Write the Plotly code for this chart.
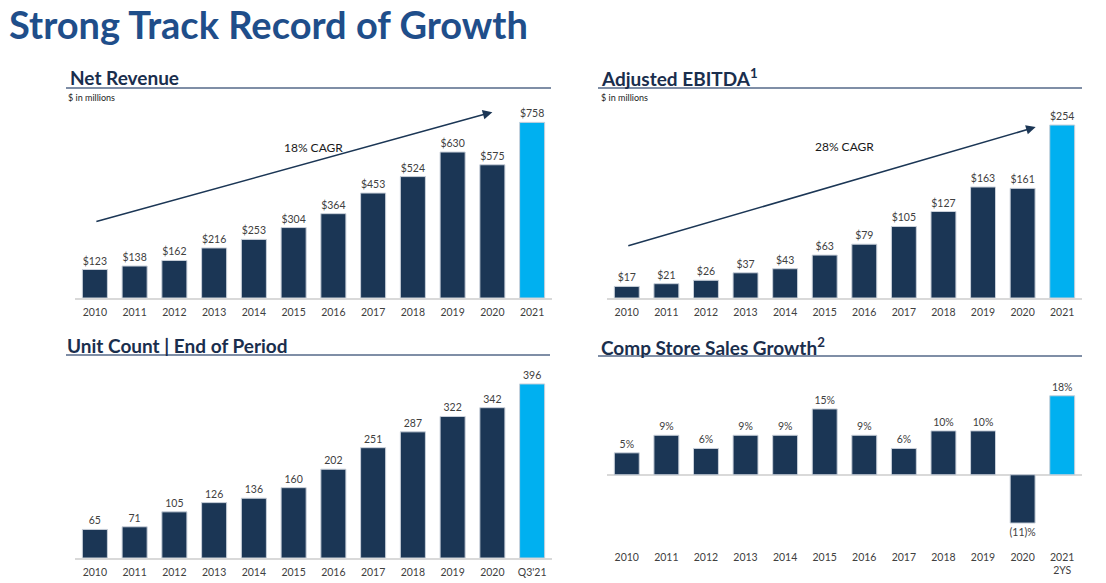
import plotly.graph_objects as go

# ---------------- data ----------------
years = ["2010", "2011", "2012", "2013", "2014", "2015", "2016", "2017", "2018", "2019", "2020", "2021"]
unit_labels = ["2010", "2011", "2012", "2013", "2014", "2015", "2016", "2017", "2018", "2019", "2020", "Q3'21"]
comp_labels = ["2010", "2011", "2012", "2013", "2014", "2015", "2016", "2017", "2018", "2019", "2020", "2021<br>2YS"]

net_revenue = [123, 138, 162, 216, 253, 304, 364, 453, 524, 630, 575, 758]
adj_ebitda = [17, 21, 26, 37, 43, 63, 79, 105, 127, 163, 161, 254]
unit_count = [65, 71, 105, 126, 136, 160, 202, 251, 287, 322, 342, 396]
comp_growth = [5, 9, 6, 9, 9, 15, 9, 6, 10, 10, -11, 18]

# CAGR arrows (start/end in data coordinates: category index, value)
rev_arrow = dict(x0=0.0, y0=328, x1=10.0, y1=802, label="18% CAGR", lx=5.5, ly=651)
ebitda_arrow = dict(x0=0.0, y0=76, x1=10.33, y1=251, label="28% CAGR", lx=5.5, ly=222)

# ---------------- style ----------------
FONT = "Lato"
NAVY = "#1b3655"
HILITE = "#00b0f0"
TITLE_C = "#1f4e8a"
HEAD_C = "#1a2e4d"
TXT = "#404040"
OFF = 8  # page body margin
W, H = 1106 - OFF, 583 - OFF


def px_x(p):
    return (p - OFF) / W


def px_y(p):
    return 1 - (p - OFF) / H


def colors(n):
    return [NAVY] * (n - 1) + [HILITE]


def money(vals):
    return [f"${v}" for v in vals]


def pct(vals):
    return [f"{v}%" if v >= 0 else f"({-v})%" for v in vals]


fig = go.Figure()

panels = [
    # (values, tick labels, texts, xaxis id, yaxis id, xdom px, ydom px, yrange)
    (net_revenue, years, money(net_revenue), "x", "y", (75, 552), (108, 298), [0, 820]),
    (adj_ebitda, years, money(adj_ebitda), "x2", "y2", (607, 1082), (108, 298), [0, 279]),
    (unit_count, unit_labels, [str(v) for v in unit_count], "x3", "y3", (75, 552), (369, 558), [0, 430]),
    (comp_growth, comp_labels, pct(comp_growth), "x4", "y4", (607, 1082), (387, 545), [-16, 20]),
]

for i, (vals, labels, texts, xa, ya, xd, yd, yr) in enumerate(panels):
    fig.add_trace(go.Bar(
        x=list(range(len(vals))), y=vals, text=texts,
        textposition="outside", constraintext="none", cliponaxis=False,
        textfont=dict(family=FONT, size=10.5, color=TXT),
        marker=dict(color=colors(len(vals)), line=dict(color="#c9d0da", width=1)),
        width=0.63, xaxis=xa, yaxis=ya, showlegend=False, hoverinfo="skip",
    ))
    n = "" if i == 0 else str(i + 1)
    fig.update_layout(**{
        f"xaxis{n}": dict(
            domain=[px_x(xd[0]), px_x(xd[1])], range=[-0.5, len(vals) - 0.5],
            tickmode="array", tickvals=list(range(len(vals))), ticktext=labels,
            tickfont=dict(family=FONT, size=10.5, color=TXT),
            showgrid=False, zeroline=False, anchor=ya,
            showline=(i != 3), linecolor="#d9d9d9", linewidth=2, ticks="",
            ticklabelstandoff=3 if i != 3 else 4, fixedrange=True,
        ),
        f"yaxis{n}": dict(
            domain=[px_y(yd[1]), px_y(yd[0])], range=yr, visible=(i == 3),
            showticklabels=False, showgrid=False, ticks="", showline=False,
            zeroline=(i == 3), zerolinecolor="#d9d9d9", zerolinewidth=2,
            anchor=xa, fixedrange=True,
        ),
    })

annotations = []
for arr, xa, ya in [(rev_arrow, "x", "y"), (ebitda_arrow, "x2", "y2")]:
    annotations.append(dict(
        x=arr["x1"], y=arr["y1"], ax=arr["x0"], ay=arr["y0"], xref=xa, yref=ya,
        axref=xa, ayref=ya, showarrow=True, arrowhead=2, arrowsize=1.2,
        arrowwidth=1.6, arrowcolor=NAVY, standoff=0, startstandoff=0, text="",
    ))
    annotations.append(dict(
        x=arr["lx"], y=arr["ly"], xref=xa, yref=ya, text=arr["label"], showarrow=False,
        font=dict(family=FONT, size=12, color="#1a1a1a"),
    ))

# title
annotations.append(dict(
    x=px_x(8), y=px_y(24), xref="paper", yref="paper", xanchor="left", yanchor="middle",
    text="<b>Strong Track Record of Growth</b>", showarrow=False, borderpad=0,
    font=dict(family=FONT, size=38, color=TITLE_C),
))

headers = [
    ("<b>Net Revenue</b>", 68, 78),
    ("<b>Adjusted EBITDA<sup>1</sup></b>", 599, 77),
    ("<b>Unit Count | End of Period</b>", 65, 345),
    ("<b>Comp Store Sales Growth<sup>2</sup></b>", 599, 346),
]
for txt, x, y in headers:
    annotations.append(dict(
        x=px_x(x), y=px_y(y), xref="paper", yref="paper", xanchor="left", yanchor="middle",
        text=txt, showarrow=False, font=dict(family=FONT, size=19, color=HEAD_C),
    ))

for x, y in [(66, 97), (599, 97)]:
    annotations.append(dict(
        x=px_x(x), y=px_y(y), xref="paper", yref="paper", xanchor="left", yanchor="middle",
        text="$ in millions", showarrow=False, font=dict(family=FONT, size=9, color="#222222"),
    ))

shapes = []
for x0, x1, y in [(66, 551, 88), (598, 1082, 88), (66, 550, 355), (598, 1082, 356)]:
    shapes.append(dict(type="line", xref="paper", yref="paper",
                       x0=px_x(x0), x1=px_x(x1), y0=px_y(y), y1=px_y(y),
                       line=dict(color="#7f8ea6", width=2)))

fig.update_layout(
    width=W, height=H, margin=dict(l=0, r=0, t=0, b=0),
    paper_bgcolor="white", plot_bgcolor="white",
    annotations=annotations, shapes=shapes, bargap=0.37,
    font=dict(family=FONT),
)

fig.write_html("out.html", config={"displayModeBar": False})
